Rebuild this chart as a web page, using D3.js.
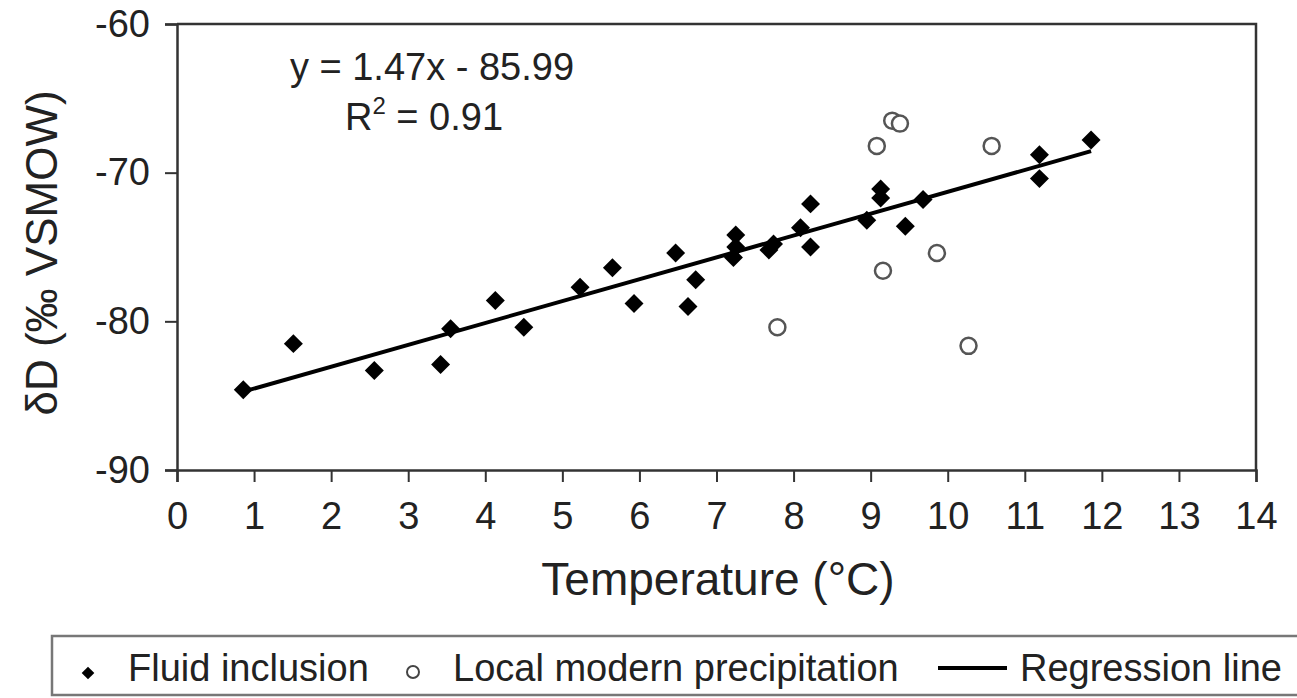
<!DOCTYPE html>
<html>
<head>
<meta charset="utf-8">
<script src="https://cdn.jsdelivr.net/npm/d3@7"></script>
<style>
  body { margin: 0; background: #fff; }
  text { font-family: "Liberation Sans", Arial, sans-serif; fill: #222; }
</style>
</head>
<body>
<script>
// fluid inclusion points (temperature, dD)
var fluidT = [0.86, 1.51, 2.56, 3.42, 3.55, 4.13, 4.50, 5.23, 5.65, 5.93, 6.47, 6.63, 6.73, 7.22, 7.25, 7.25, 7.68, 7.74, 8.09, 8.22, 8.22, 8.95, 9.13, 9.13, 9.45, 9.68, 11.19, 11.19, 11.86];
var fluidD = [-84.6, -81.5, -83.3, -82.9, -80.5, -78.6, -80.4, -77.7, -76.4, -78.8, -75.4, -79.0, -77.2, -75.7, -75.0, -74.2, -75.2, -74.8, -73.7, -72.1, -75.0, -73.2, -71.1, -71.7, -73.6, -71.8, -68.8, -70.4, -67.8];

// local modern precipitation
var precT = [7.79, 9.08, 9.16, 9.28, 9.38, 9.86, 10.27, 10.57];
var precD = [-80.4, -68.2, -76.6, -66.5, -66.7, -75.4, -81.65, -68.2];

// regression y = 1.47x - 85.99, drawn over the fluid inclusion range
var regSlope = 1.47, regIntercept = -85.99;
var regRange = [0.88, 11.86];

var xTicks = d3.range(0, 15);
var yTicks = [-60, -70, -80, -90];
var legendLabels = ["Fluid inclusion", "Local modern precipitation", "Regression line"];

var width = 1297, height = 698;
var margin = { top: 24, right: 41, bottom: 228, left: 177 };

var svg = d3.select("body").append("svg").attr("width", width).attr("height", height);

var xScale = d3.scaleLinear().domain([0, 14]).range([margin.left, width - margin.right]);
var yScale = d3.scaleLinear().domain([-90, -60]).range([height - margin.bottom, margin.top]);

var fluid = fluidT.map((t, i) => ({ x: t, y: fluidD[i] }));
var prec = precT.map((t, i) => ({ x: t, y: precD[i] }));

// frame (top and right)
svg.append("path")
    .attr("d", "M" + xScale(0) + "," + yScale(-60) + "H" + xScale(14) + "V" + yScale(-90))
    .attr("fill", "none").attr("stroke", "#333").attr("stroke-width", 2.5);

var xAxis = g => g.attr("transform", "translate(0," + yScale(-90) + ")")
    .call(d3.axisBottom(xScale).tickValues(xTicks).tickSize(12).tickPadding(20).tickFormat(d3.format("d")))
var yAxis = g => g.attr("transform", "translate(" + xScale(0) + ",0)")
    .call(d3.axisLeft(yScale).tickValues(yTicks).tickSize(12).tickPadding(15).tickFormat(d => d))

svg.append("g").call(xAxis);
svg.append("g").call(yAxis);
svg.selectAll(".domain").attr("stroke", "#333").attr("stroke-width", 2.5);
svg.selectAll(".tick line").attr("stroke", "#333").attr("stroke-width", 2);
svg.selectAll(".tick text").attr("font-size", 38).attr("fill", "#222")
    .style("font-family", "'Liberation Sans', Arial, sans-serif");

// regression line
var line = d3.line().x(d => xScale(d.x)).y(d => yScale(d.y));
svg.append("path")
    .datum(regRange.map(x => ({ x: x, y: regSlope * x + regIntercept })))
    .attr("d", line)
    .attr("stroke", "#000").attr("stroke-width", 4).attr("fill", "none");

// fluid inclusion diamonds
var diamond = d3.symbol(d3.symbolSquare, 180);
svg.selectAll(".fluid").data(fluid).enter().append("path")
    .attr("class", "fluid")
    .attr("d", diamond)
    .attr("transform", d => "translate(" + xScale(d.x) + "," + yScale(d.y) + ") rotate(45)")
    .attr("fill", "#000");

// precipitation circles
svg.selectAll(".prec").data(prec).enter().append("circle")
    .attr("class", "prec")
    .attr("cx", d => xScale(d.x)).attr("cy", d => yScale(d.y)).attr("r", 8)
    .attr("fill", "#fff").attr("stroke", "#555").attr("stroke-width", 2.5);

// equation
svg.append("text").attr("x", 432).attr("y", 80).attr("text-anchor", "middle").attr("font-size", 38)
    .text("y = 1.47x - 85.99");
var r2 = svg.append("text").attr("x", 424).attr("y", 130).attr("text-anchor", "middle").attr("font-size", 38);
r2.append("tspan").text("R");
r2.append("tspan").attr("font-size", 24).attr("dy", -16).text("2");
r2.append("tspan").attr("dy", 16).text(" = 0.91");

// axis titles
svg.append("text").attr("x", 718).attr("y", 595).attr("text-anchor", "middle").attr("font-size", 46)
    .text("Temperature (°C)");
svg.append("text").attr("transform", "translate(57,253) rotate(-90)").attr("text-anchor", "middle")
    .attr("font-size", 44).text("δD (‰ VSMOW)");

// legend
var leg = svg.append("g");
leg.append("rect").attr("x", 52).attr("y", 636).attr("width", 1300).attr("height", 59)
    .attr("fill", "#fff").attr("stroke", "#777").attr("stroke-width", 2.5);
leg.append("path").attr("d", d3.symbol(d3.symbolSquare, 80))
    .attr("transform", "translate(88,673) rotate(45)").attr("fill", "#000");
leg.append("text").attr("x", 128).attr("y", 681).attr("font-size", 38).text(legendLabels[0]);
leg.append("circle").attr("cx", 413).attr("cy", 672).attr("r", 6)
    .attr("fill", "#fff").attr("stroke", "#444").attr("stroke-width", 2);
leg.append("text").attr("x", 453).attr("y", 681).attr("font-size", 38).text(legendLabels[1]);
leg.append("line").attr("x1", 938).attr("x2", 1007).attr("y1", 668).attr("y2", 668)
    .attr("stroke", "#000").attr("stroke-width", 4);
leg.append("text").attr("x", 1020).attr("y", 681).attr("font-size", 38).text(legendLabels[2]);
</script>
</body>
</html>
